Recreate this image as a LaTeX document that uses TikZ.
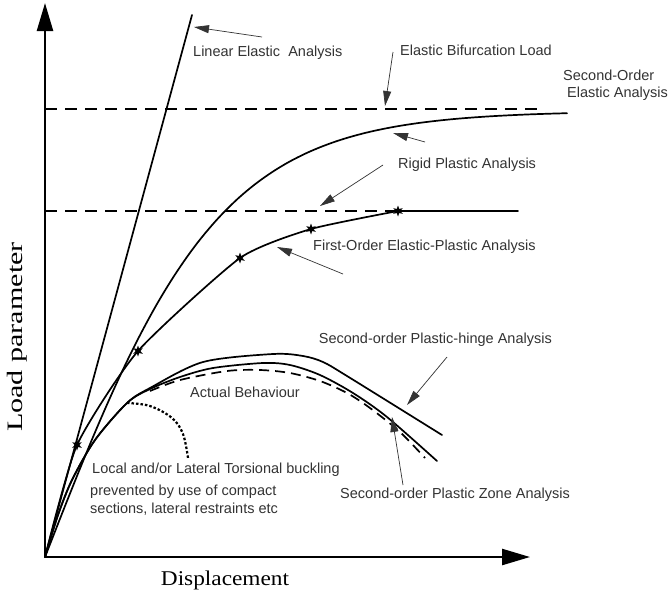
\documentclass[tikz,border=0pt]{standalone}
\usepackage{graphicx}
\usepackage{fontspec}
\setmainfont{Liberation Serif}
\newfontfamily\labfont{Liberation Sans}
\usetikzlibrary{arrows.meta,shapes.geometric}
\begin{document}
\begin{tikzpicture}[x=1pt,y=-1pt,
  curve/.style={line width=1.7pt, line join=round, line cap=round},
  axisline/.style={line width=2.4pt, -{Triangle[length=28pt,width=16pt]}},
  ann/.style={line width=0.7pt, black!80, -{Triangle[length=15pt,width=8pt]}},
  lbl/.style={font=\labfont\fontsize{14.5}{17}\selectfont, text=black!80, inner sep=0pt},
  hdash/.style={line width=2pt, dash pattern=on 12pt off 8pt},
  markstar/.style={star, star points=6, star point ratio=2.3, minimum size=11pt, inner sep=0pt, fill=black, draw=none},
  axlabel/.style={inner sep=0pt, text=black}
]
\useasboundingbox[fill=white] (0,0) rectangle (668,592);

% axes
\coordinate (O) at (45,557);
\coordinate (ytip) at (45,3);
\coordinate (xtip) at (530,557);
\draw[axisline] (O) -- (ytip);
\draw[axisline] (O) -- (xtip);

% axis labels
\node[axlabel, anchor=base, rotate=90] (ylab) at (22,337)
  {\scalebox{1.37}[1]{\fontsize{22}{24}\selectfont Load parameter}};
\node[axlabel, anchor=base] (xlab) at (225,585)
  {\scalebox{1.11}[1]{\fontsize{21}{24}\selectfont Displacement}};

% horizontal dashed load levels
\draw[hdash] (45,109) -- (543,109);
\draw[hdash] (45,211) -- (398,211);

% linear elastic
\draw[curve] (O) -- (192,15);

% second-order elastic
\draw[curve] plot[domain=0:522, samples=90, smooth] ({45+\x}, {557-446*tanh(\x/174)});

% first-order elastic-plastic
\draw[curve] plot[smooth, tension=0.35] coordinates {(45,557) (77,445) (138,351) (240,258) (311,229) (398,211)};
\draw[curve] (398,211) -- (518,211);
\node[markstar] (s1) at (77,445) {};
\node[markstar] (s2) at (138,351) {};
\node[markstar] (s3) at (240,258) {};
\node[markstar] (s4) at (311,229) {};
\node[markstar] (s5) at (398,211) {};

% second-order plastic hinge
\draw[curve] plot[smooth, tension=0.5] coordinates {(45,557) (58,515) (72,480) (95,440) (127,403) (150,388) (203,362) (273,354) (303,356) (323,362) (347,376) (442,435)};
% second-order plastic zone
\draw[curve] plot[smooth, tension=0.5] coordinates {(45,557) (58,515) (72,480) (95,440) (127,403) (150,389) (180,377) (213,368) (263,363) (290,365) (320,375) (353,393) (387,417) (437,461)};
% actual behaviour (dashed)
\draw[line width=1.7pt, dash pattern=on 10pt off 6pt] plot[smooth, tension=0.5] coordinates {(150,391) (180,380) (227,371) (260,370) (290,373) (320,381) (347,393) (370,408) (400,432) (425,458)};
% local buckling (dotted)
\draw[line width=2.2pt, dash pattern=on 2.5pt off 2pt] plot[smooth, tension=0.6] coordinates {(127,403) (150,406) (172,418) (183,434) (188,458)};

% labels
\node[lbl, anchor=base west] (lin) at (193,56) {Linear Elastic\ \ Analysis};
\node[lbl, anchor=base west] (bif) at (400,55) {Elastic Bifurcation Load};
\node[lbl, anchor=base west] (soe1) at (563,80) {Second-Order};
\node[lbl, anchor=base west] (soe2) at (567,97) {Elastic Analysis};
\node[lbl, anchor=base west] (rig) at (398,168) {Rigid Plastic Analysis};
\node[lbl, anchor=base west] (fir) at (313,250) {First-Order Elastic-Plastic Analysis};
\node[lbl, anchor=base east] (hin) at (552,343) {Second-order Plastic-hinge Analysis};
\node[lbl, anchor=base west] (zon) at (340,498) {Second-order Plastic Zone Analysis};
\node[lbl, anchor=base west] (act) at (190,397) {Actual Behaviour};
\node[lbl, anchor=base west] (loc) at (92,473) {Local and/or Lateral Torsional buckling};
\node[lbl, anchor=base west] (prev) at (90,495) {prevented by use of compact};
\node[lbl, anchor=base west] (sect) at (90,513) {sections, lateral restraints etc};

% annotation arrows
\coordinate (a1t) at (262,37);  \coordinate (a1h) at (194,27);
\coordinate (a2t) at (393,52);  \coordinate (a2h) at (385,106);
\coordinate (a3t) at (425,142); \coordinate (a3h) at (393,133);
\coordinate (a4t) at (383,165); \coordinate (a4h) at (320,206);
\coordinate (a5t) at (343,274); \coordinate (a5h) at (277,247);
\coordinate (a6t) at (447,357); \coordinate (a6h) at (407,405);
\coordinate (a7t) at (403,485); \coordinate (a7h) at (392,417);
\draw[ann] (a1t) -- (a1h);
\draw[ann] (a2t) -- (a2h);
\draw[ann] (a3t) -- (a3h);
\draw[ann] (a4t) -- (a4h);
\draw[ann] (a5t) -- (a5h);
\draw[ann] (a6t) -- (a6h);
\draw[ann] (a7t) -- (a7h);
\end{tikzpicture}
\end{document}
